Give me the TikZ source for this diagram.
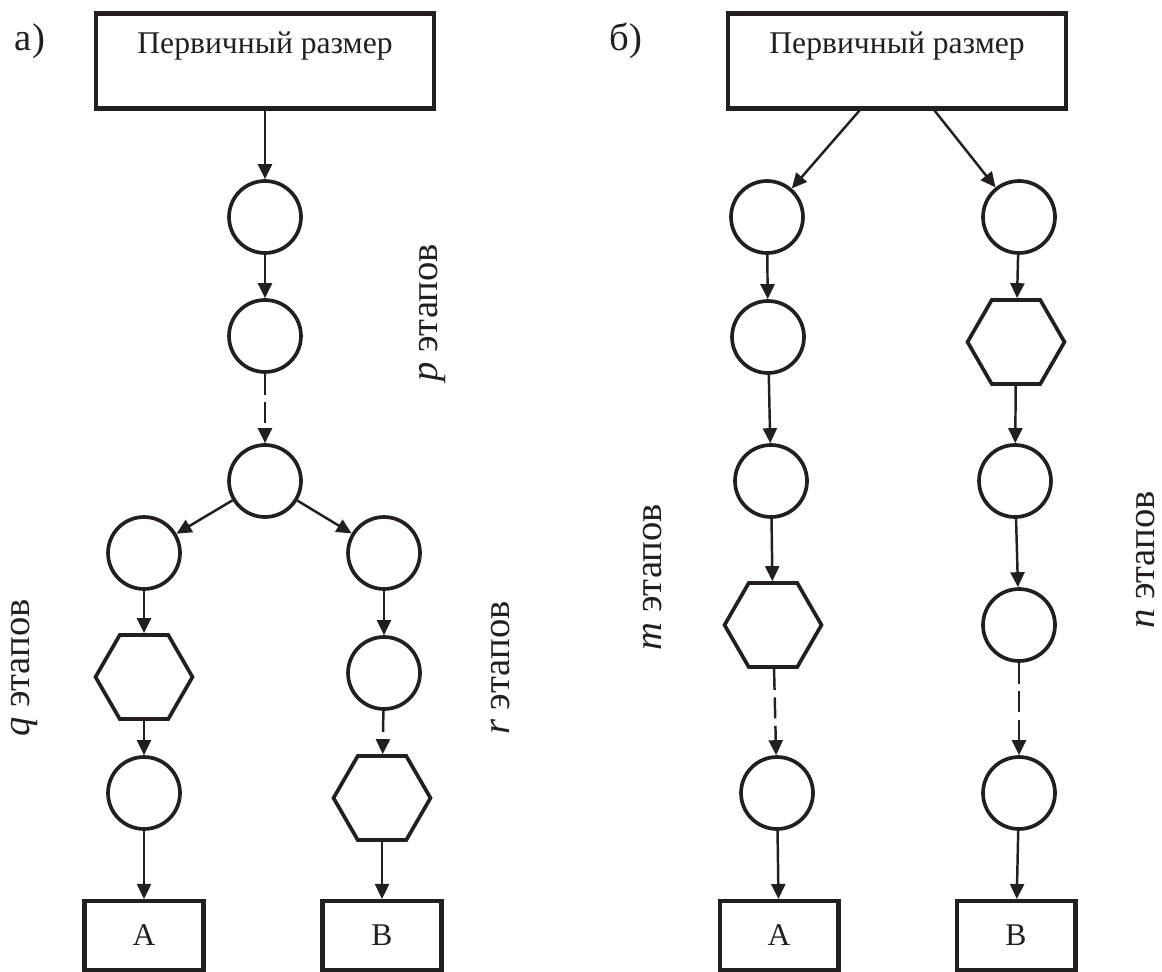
\documentclass[tikz,border=0pt]{standalone}
\usepackage{fontspec}
\setmainfont{Liberation Serif}
\usetikzlibrary{shapes.geometric,arrows.meta}
\definecolor{ink}{RGB}{35,31,32}
\newcommand\boxfont{\fontsize{18}{22}\selectfont}
\newcommand\labfont{\fontsize{22}{26}\selectfont}

\begin{document}
\begin{tikzpicture}[x=0.02cm, y=-0.02cm, color=ink,
    stage/.style={circle, draw, line width=2.1pt, minimum size=1.44cm, inner sep=0pt},
    hexa/.style={regular polygon, regular polygon sides=6, draw, line width=2.1pt, minimum size=1.94cm, inner sep=0pt},
    head/.style={rectangle, draw, line width=2.3pt, minimum width=6.75cm, minimum height=1.9cm},
    block/.style={rectangle, draw, line width=2.3pt, minimum width=2.38cm, minimum height=1.38cm, inner sep=0pt, font=\boxfont},
    flow/.style={-{Triangle[length=0.3cm,width=0.28cm]}, line width=1.4pt},
    skip/.style={flow, dash pattern=on 0.42cm off 0.15cm},
    steps/.style={rotate=90, inner sep=0pt, font=\labfont}]
    \useasboundingbox (0,0) rectangle (1162,972);

    % Scheme a)
    \node[font=\labfont] (tagA) at (30,41) {а)};
    \node[head] (P1) at (265,61) {};
    \node[anchor=base, font=\boxfont] (P1t) at ([yshift=-0.84cm]P1.north) {Первичный размер};
    \node[stage] (a1) at (265,217) {};
    \node[stage] (a2) at (265,336) {};
    \node[stage] (a3) at (265,481) {};
    \node[stage] (q1) at (144,553) {};
    \node[hexa]  (q2) at (144,677) {};
    \node[stage] (q3) at (144,793) {};
    \node[block] (A1) at (144,935.5) {A};
    \node[stage] (r1) at (384,553) {};
    \node[stage] (r2) at (384,673) {};
    \node[hexa]  (r3) at (382,798) {};
    \node[block] (B1) at (382,935.5) {B};
    \node[steps] (pl) at (433,313) {\textit{p} этапов};
    \node[steps] (ql) at (25,668) {\textit{q} этапов};
    \node[steps] (rl) at (501,668) {\textit{r} этапов};

    % Scheme b)
    \node[font=\labfont] (tagB) at (626,41) {б)};
    \node[head] (P2) at (897,61) {};
    \node[anchor=base, font=\boxfont] (P2t) at ([yshift=-0.84cm]P2.north) {Первичный размер};
    \node[stage] (m1) at (767,217) {};
    \node[stage] (m2) at (768,337) {};
    \node[stage] (m3) at (771,481) {};
    \node[hexa]  (m4) at (773,625) {};
    \node[stage] (m5) at (777,793) {};
    \node[block] (A2) at (779,935.5) {A};
    \node[stage] (n1) at (1019,217) {};
    \node[hexa]  (n2) at (1016,342) {};
    \node[stage] (n3) at (1015,481) {};
    \node[stage] (n4) at (1019,625) {};
    \node[stage] (n5) at (1019,793) {};
    \node[block] (B2) at (1016,935.5) {B};
    \node[steps] (ml) at (653,577) {\textit{m} этапов};
    \node[steps] (nl) at (1146,560) {\textit{n} этапов};

    % Draw the arrows
    \draw[flow] (P1) -- (a1);
    \draw[flow] (a1) -- (a2);
    \draw[skip] (a2) -- (a3);
    \draw[flow] (a3) -- (q1);
    \draw[flow] (a3) -- (r1);
    \draw[flow] (q1) -- (q2);
    \draw[skip] (q2) -- (q3);
    \draw[flow] (q3) -- (A1);
    \draw[flow] (r1) -- (r2);
    \draw[skip] (r2) -- (r3);
    \draw[flow] (r3) -- (B1);

    \draw[flow] ([xshift=-0.75cm]P2.south) -- (m1);
    \draw[flow] ([xshift=0.75cm]P2.south) -- (n1);
    \draw[flow] (m1) -- (m2);
    \draw[flow] (m2) -- (m3);
    \draw[flow] (m3) -- (m4);
    \draw[skip] (m4) -- (m5);
    \draw[flow] (m5) -- (A2);
    \draw[flow] (n1) -- (n2);
    \draw[flow] (n2) -- (n3);
    \draw[flow] (n3) -- (n4);
    \draw[skip] (n4) -- (n5);
    \draw[flow] (n5) -- (B2);
\end{tikzpicture}
\end{document}
